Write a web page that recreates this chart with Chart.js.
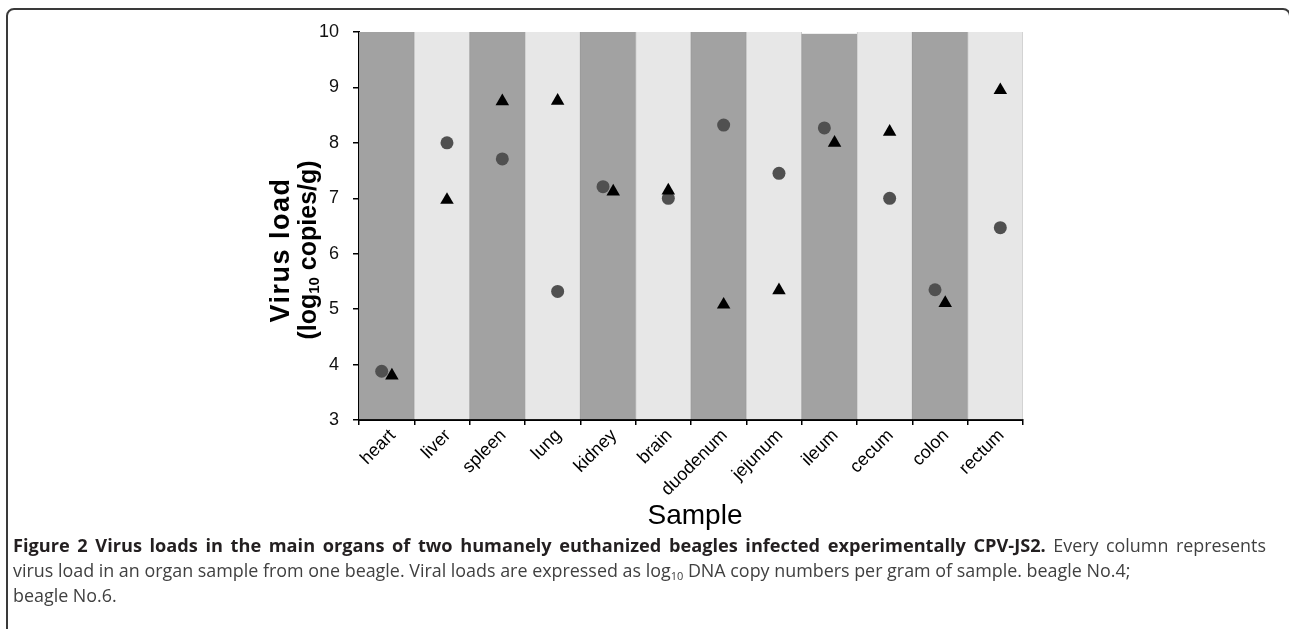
<!DOCTYPE html>
<html>
<head>
<meta charset="utf-8">
<script src="https://cdn.jsdelivr.net/npm/chart.js@4"></script>
<style>
  html, body { margin:0; padding:0; background:#fff; width:1289px; height:629px; overflow:hidden; }
  #frame { position:absolute; left:6px; top:8px; width:1285px; height:640px; border:2px solid #3a3a3a; border-radius:8px; box-sizing:border-box; }
  #wrap { position:absolute; left:0; top:0; width:1289px; height:629px; }
  #caption { position:absolute; left:13px; top:533px; font-family:"Open Sans", sans-serif; font-size:17.9px; line-height:25px; color:#404040; }
  #caption .ln { white-space:nowrap; height:25px; }
  #caption .j { text-align:justify; text-align-last:justify; white-space:normal; overflow:hidden; }
  #caption b { color:#231f20; font-weight:700; font-size:18.2px; }
  #caption sub { font-size:11px; vertical-align:-3px; line-height:0; }
</style>
</head>
<body>
<div id="frame"></div>
<div id="wrap"><canvas id="c" width="1289" height="629"></canvas></div>
<div id="caption">
  <div class="ln j" style="width:1253px"><b>Figure 2 Virus loads in the main organs of two humanely euthanized beagles infected experimentally CPV-JS2.</b> Every column represents</div>
  <div class="ln">virus load in an organ sample from one beagle. Viral loads are expressed as log<sub>10</sub> DNA copy numbers per gram of sample. beagle No.4;</div>
  <div class="ln">beagle No.6.</div>
</div>
<script>
// ---- data ----
const categories = ['heart','liver','spleen','lung','kidney','brain','duodenum','jejunum','ileum','cecum','colon','rectum'];
const beagleNo4 = [3.88, 8.00, 7.71, 5.32, 7.21, 7.00, 8.32, 7.45, 8.27, 7.00, 5.35, 6.47]; // circles
const beagleNo6 = [3.80, 6.97, 8.75, 8.76, 7.12, 7.14, 5.08, 5.34, 8.00, 8.20, 5.11, 8.95]; // triangles
const columnTop = [10, 10, 10, 10, 10, 10, 10, 10, 9.97, 10, 10, 10];
const yTicks = [3, 4, 5, 6, 7, 8, 9, 10];

const yMin = yTicks[0], yMax = yTicks[yTicks.length - 1];
const DARK = '#a2a2a2', LIGHT = '#e7e7e7';

// small horizontal dodge so the markers sit slightly right of column centre,
// and pairs that overlap are split apart
const shift = 0.09;
function dodge(i) {
  const a = beagleNo4[i], b = beagleNo6[i];
  return (a >= b && a - b < 0.35);
}
const pts4 = beagleNo4.map((v, i) => ({ x: i + (dodge(i) ? -shift : shift), y: v }));
const pts6 = beagleNo6.map((v, i) => ({ x: i + shift * (dodge(i) ? 1.05 : 1), y: v }));

const titlePlugin = {
  id: 'titles',
  afterDraw(chart) {
    const { ctx, chartArea } = chart;
    ctx.save();
    // x-axis title
    ctx.fillStyle = '#000';
    ctx.font = '28px "Liberation Sans", Arial, sans-serif';
    ctx.textAlign = 'center';
    ctx.textBaseline = 'middle';
    ctx.fillText('Sample', (chartArea.left + chartArea.right) / 2 + 4, chartArea.bottom + 96);

    // y-axis title (two lines, rotated)
    const cy = (chartArea.top + chartArea.bottom) / 2 + 24;
    ctx.translate(chartArea.left - 77, cy);
    ctx.rotate(-Math.PI / 2);
    ctx.textBaseline = 'middle';
    ctx.textAlign = 'center';
    ctx.font = 'bold 27px "Liberation Sans", Arial, sans-serif';
    ctx.letterSpacing = '1.5px';
    ctx.fillText('Virus load', 0, 0);
    ctx.letterSpacing = '0px';
    // second line with subscript
    const big = 'bold 25px "Liberation Sans", Arial, sans-serif';
    const small = 'bold 15px "Liberation Sans", Arial, sans-serif';
    const p1 = '(log', p2 = '10', p3 = ' copies/g)';
    ctx.font = big; const w1 = ctx.measureText(p1).width, w3 = ctx.measureText(p3).width;
    ctx.font = small; const w2 = ctx.measureText(p2).width;
    const total = w1 + w2 + w3;
    let x = -total / 2;
    const y2 = 27;
    ctx.textAlign = 'left';
    ctx.font = big; ctx.fillText(p1, x, y2); x += w1;
    ctx.font = small; ctx.fillText(p2, x, y2 + 6); x += w2;
    ctx.font = big; ctx.fillText(p3, x, y2);
    ctx.restore();
  }
};

new Chart(document.getElementById('c'), {
  data: {
    labels: categories,
    datasets: [
      {
        type: 'bar',
        data: columnTop,
        base: yMin,
        grouped: false,
        backgroundColor: categories.map((_, i) => i % 2 ? LIGHT : DARK),
        borderColor: categories.map((_, i) => i % 2 ? '#cacaca' : '#9c9c9c'),
        borderWidth: { left: 1, right: 1, top: 0, bottom: 0 },
        borderSkipped: false,
        barPercentage: 1,
        categoryPercentage: 1,
        xAxisID: 'x', yAxisID: 'y',
        order: 3
      },
      {
        type: 'scatter',
        label: 'beagle No.4',
        data: pts4,
        xAxisID: 'x2', yAxisID: 'y',
        pointStyle: 'circle',
        pointRadius: 6.5,
        pointBackgroundColor: '#505050',
        pointBorderWidth: 0,
        order: 2
      },
      {
        type: 'scatter',
        label: 'beagle No.6',
        data: pts6,
        xAxisID: 'x2', yAxisID: 'y',
        pointStyle: 'triangle',
        pointRadius: 7.8,
        pointBackgroundColor: '#000',
        pointBorderWidth: 0,
        order: 1
      }
    ]
  },
  options: {
    responsive: false,
    animation: false,
    layout: { padding: { left: 0, right: 266, top: 32, bottom: 0 } },
    plugins: { legend: { display: false }, tooltip: { enabled: false } },
    scales: {
      x: {
        type: 'category',
        offset: true,
        grid: { offset: true, drawOnChartArea: false, drawTicks: true, tickLength: 5, color: '#000', lineWidth: 1.5 },
        border: { color: '#000', width: 2 },
        ticks: { autoSkip: false, maxRotation: 45, minRotation: 45, padding: 0, labelOffset: 6, color: '#000',
                 font: { family: '"Liberation Sans", Arial, sans-serif', size: 18 } },
        afterFit(s) { s.height = 209; }
      },
      x2: { type: 'linear', display: false, min: -0.5, max: 11.5 },
      y: {
        min: yMin, max: yMax,
        afterBuildTicks(s) { s.ticks = yTicks.map(v => ({ value: v })); },
        grid: { drawOnChartArea: false, drawTicks: true, tickLength: 6, color: '#000', lineWidth: 1.5 },
        border: { color: '#000', width: 2 },
        ticks: { padding: 14, color: '#111', font: { family: '"Liberation Sans", Arial, sans-serif', size: 18 } },
        afterFit(s) { s.width = 359; }
      }
    }
  },
  plugins: [titlePlugin]
});
</script>
</body>
</html>
